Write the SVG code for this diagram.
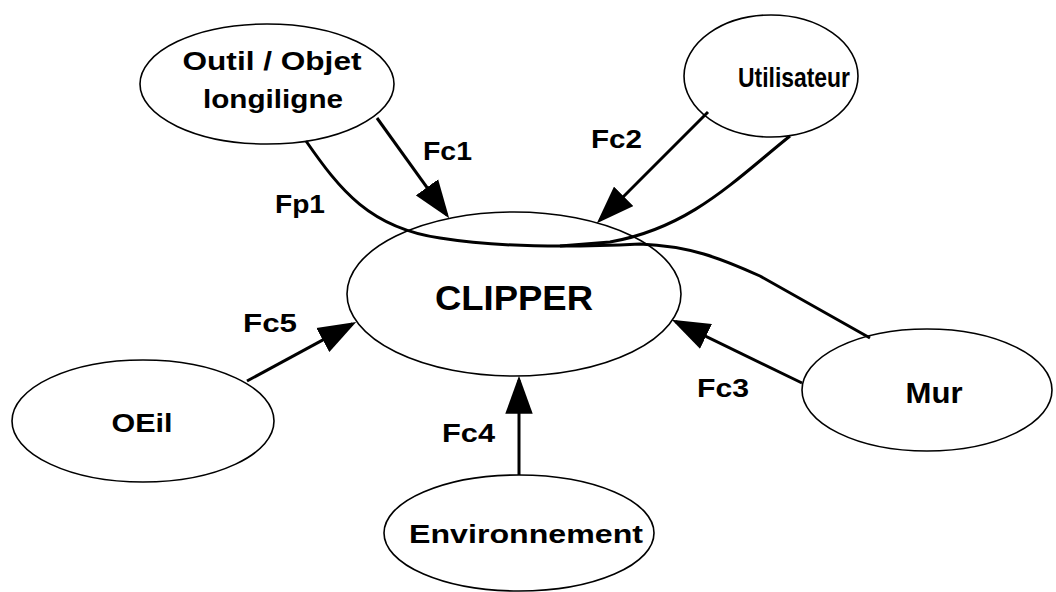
<svg xmlns="http://www.w3.org/2000/svg" width="1056" height="592" viewBox="0 0 1056 592">
<style>
.node{fill:#fff;stroke:#000;stroke-width:1.6}
.lbl{font-family:"Liberation Sans",Arial,sans-serif;font-weight:bold;fill:#000;text-anchor:middle}
.edge{fill:none;stroke:#000;stroke-width:3}
.fl{font-family:"Liberation Sans",Arial,sans-serif;font-weight:bold;font-size:25px;fill:#000}
</style>
<defs>
<marker id="arr" markerUnits="userSpaceOnUse" markerWidth="38" markerHeight="28" viewBox="0 0 36 26" refX="32" refY="13" orient="auto">
<path d="M0,0 L36,13 L0,26 z" fill="#000"/>
</marker>
</defs>
<rect width="1056" height="592" fill="#fff"/>
<g id="outil">
<ellipse class="node" cx="267" cy="84" rx="127" ry="60"/>
<text class="lbl" x="272" y="70" font-size="26" textLength="179" lengthAdjust="spacingAndGlyphs">Outil / Objet</text>
<text class="lbl" x="273" y="108" font-size="26" textLength="140" lengthAdjust="spacingAndGlyphs">longiligne</text>
</g>
<g id="utilisateur">
<ellipse class="node" cx="771" cy="76" rx="87" ry="61"/>
<text class="lbl" x="794" y="87" font-size="27" textLength="112" lengthAdjust="spacingAndGlyphs">Utilisateur</text>
</g>
<g id="clipper">
<ellipse class="node" cx="514" cy="294" rx="167" ry="82"/>
<text class="lbl" x="514" y="310" font-size="35" textLength="158" lengthAdjust="spacingAndGlyphs">CLIPPER</text>
</g>
<g id="oeil">
<ellipse class="node" cx="143" cy="421" rx="131" ry="61"/>
<text class="lbl" x="142" y="432" font-size="26" textLength="61" lengthAdjust="spacingAndGlyphs">OEil</text>
</g>
<g id="mur">
<ellipse class="node" cx="927" cy="390" rx="125" ry="61"/>
<text class="lbl" x="934" y="403" font-size="30" textLength="57" lengthAdjust="spacingAndGlyphs">Mur</text>
</g>
<g id="environnement">
<ellipse class="node" cx="519" cy="533" rx="135" ry="58"/>
<text class="lbl" x="526" y="543" font-size="26" textLength="234" lengthAdjust="spacingAndGlyphs">Environnement</text>
</g>
<g id="connectors">
<path class="edge" d="M306,141 C340,190 370,228 440,238 C490,246 560,248 640,244 C690,246 720,258 760,276 L870,338"/>
<path class="edge" d="M790,136 C735,180 690,228 610,242 L560,246"/>
<line class="edge" x1="377" y1="118" x2="446.7" y2="214.8" marker-end="url(#arr)"/>
<line class="edge" x1="708" y1="112" x2="599.8" y2="220.2" marker-end="url(#arr)"/>
<line class="edge" x1="247" y1="381" x2="352.5" y2="323.9" marker-end="url(#arr)"/>
<line class="edge" x1="802" y1="383" x2="675.6" y2="321.7" marker-end="url(#arr)"/>
<line class="edge" x1="519" y1="475" x2="519" y2="380" marker-end="url(#arr)"/>
<text class="fl" x="423" y="160" textLength="49" lengthAdjust="spacingAndGlyphs">Fc1</text>
<text class="fl" x="591" y="148" textLength="51" lengthAdjust="spacingAndGlyphs">Fc2</text>
<text class="fl" x="275" y="213" textLength="50" lengthAdjust="spacingAndGlyphs">Fp1</text>
<text class="fl" x="243" y="332" textLength="54" lengthAdjust="spacingAndGlyphs">Fc5</text>
<text class="fl" x="697" y="397" textLength="52" lengthAdjust="spacingAndGlyphs">Fc3</text>
<text class="fl" x="442" y="442" textLength="53" lengthAdjust="spacingAndGlyphs">Fc4</text>
</g>
</svg>
